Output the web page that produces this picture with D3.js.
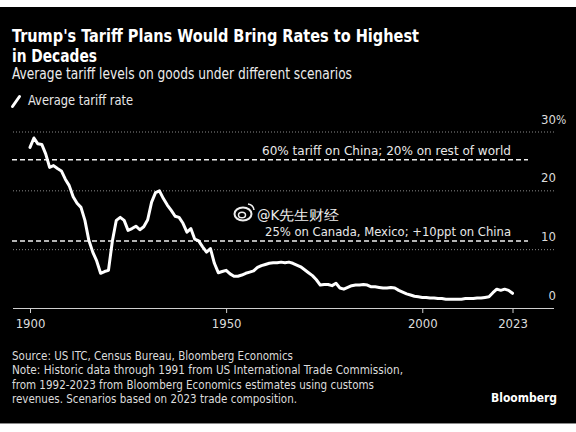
<!DOCTYPE html>
<html><head><meta charset="utf-8">
<script src="https://cdn.jsdelivr.net/npm/d3@7"></script>
<style>
html,body{margin:0;padding:0;background:#fff;}
svg{display:block;}
text{font-family:"DejaVu Sans Condensed","Noto Sans","DejaVu Sans",sans-serif;}
</style></head>
<body>
<svg id="chart" width="576" height="432"></svg>
<script>
// ---------- data ----------
const startYear = 1900;
const tariffRate = [
27.3,28.9,27.9,27.8,26.2,23.9,24.2,23.7,23.3,21.9,
20.8,18.9,17.8,17.1,14.9,11.5,9.5,8.0,5.9,6.2,
6.4,11.4,14.9,15.4,14.9,13.2,13.5,13.9,13.3,13.8,
15.0,18.0,19.6,19.9,18.6,17.5,16.6,15.6,15.4,14.4,
12.9,13.5,11.7,11.4,10.4,9.5,10.1,7.6,6.0,6.2,
6.4,5.8,5.4,5.4,5.6,5.9,6.1,6.3,6.9,7.2,
7.4,7.6,7.7,7.7,7.8,7.7,7.8,7.6,7.3,7.0,
6.5,6.0,5.5,4.8,3.9,4.0,4.0,3.8,4.2,3.4,
3.2,3.5,3.8,3.9,3.9,4.0,3.9,3.6,3.6,3.5,
3.4,3.4,3.5,3.4,3.0,2.7,2.4,2.2,2.0,1.9,
1.8,1.8,1.7,1.7,1.6,1.6,1.5,1.5,1.5,1.5,
1.5,1.6,1.6,1.6,1.7,1.7,1.8,1.9,2.6,3.2,
3.0,3.2,3.0,2.5
];
const years = tariffRate.map((v, i) => startYear + i);
const scenarioLabels = ["60% tariff on China; 20% on rest of world", "25% on Canada, Mexico; +10ppt on China"];
const scenarioValues = [25.2, 11.4];
const yTicks = [0, 10, 20, 30];
const yTickLabels = ["0", "10", "20", "30"];
const xTicks = [1900, 1950, 2000, 2023];
const titleLines = ["Trump's Tariff Plans Would Bring Rates to Highest", "in Decades"];
const subtitle = "Average tariff levels on goods under different scenarios";
const legendLabel = "Average tariff rate";
const footerLines = [
  "Source: US ITC, Census Bureau, Bloomberg Economics",
  "Note: Historic data through 1991 from US International Trade Commission,",
  "from 1992-2023 from Bloomberg Economics estimates using customs",
  "revenues. Scenarios based on 2023 trade composition."
];
const watermark = "@K先生财经";

// ---------- layout ----------
const svg = d3.select("#chart");
const W = 576, H = 432;
const plotLeft = 13, plotRight = 554;

svg.append("rect").attr("x",0).attr("y",0).attr("width",W).attr("height",H).attr("fill","#fff");
svg.append("rect").attr("x",0).attr("y",7).attr("width",W).attr("height",416).attr("fill","#000");
svg.append("line").attr("x1",0).attr("x2",W).attr("y1",423.5).attr("y2",423.5).attr("stroke","#8a8a8a");

const x = d3.scaleLinear().domain([1900, 2023]).range([30, 512.5]);
const y = d3.scaleLinear().domain([0, 30]).range([308, 131.5]);

function fit(sel, w){
  const n = sel.node();
  const len = n.getComputedTextLength();
  if (Math.abs(len - w) > 1) sel.attr("textLength", w).attr("lengthAdjust","spacingAndGlyphs");
  return sel;
}

// title
fit(svg.append("text").attr("x",12).attr("y",42).attr("fill","#fff").attr("font-weight","bold")
  .attr("font-size",17.5).text(titleLines[0]), 407);
fit(svg.append("text").attr("x",12).attr("y",62).attr("fill","#fff").attr("font-weight","bold")
  .attr("font-size",17.5).text(titleLines[1]), 85);
fit(svg.append("text").attr("x",12).attr("y",79).attr("fill","#ececec")
  .attr("font-size",15).text(subtitle), 340);

// legend
svg.append("line").attr("x1",12.5).attr("y1",106.5).attr("x2",19.5).attr("y2",96.5)
  .attr("stroke","#fff").attr("stroke-width",3).attr("stroke-linecap","round");
fit(svg.append("text").attr("x",28).attr("y",105).attr("fill","#e8e8e8")
  .attr("font-size",13.5).text(legendLabel), 105);

// y grid
const gy = svg.append("g").attr("transform",`translate(${plotRight},0)`)
  .call(d3.axisLeft(y).tickValues(yTicks).tickSize(plotRight - plotLeft).tickFormat(""));
gy.select(".domain").remove();
gy.selectAll(".tick line")
  .attr("stroke", d => d === 0 ? "#cfcfcf" : "#8a8a8a")
  .attr("stroke-width", d => d === 0 ? 1.2 : 1)
  .attr("stroke-dasharray", d => d === 0 ? null : "1,2");

// y labels
yTicks.forEach((v, i) => {
  svg.append("text").attr("x",556).attr("y", y(v) - 8).attr("fill","#dcdcdc")
    .attr("font-size",13).attr("text-anchor","end").text(yTickLabels[i]);
  if (v === 30) {
    svg.append("text").attr("x",556).attr("y", y(v) - 8).attr("fill","#dcdcdc")
      .attr("font-size",12).text("%");
  }
});

// x axis ticks
const gx = svg.append("g").attr("transform",`translate(0,${y(0)})`)
  .call(d3.axisBottom(x).tickValues(xTicks).tickSize(5).tickPadding(6).tickFormat(d3.format("d")));
gx.select(".domain").remove();
gx.selectAll(".tick line").attr("stroke","#cfcfcf");
gx.selectAll(".tick text").attr("fill","#dcdcdc").attr("font-size",13)
  .attr("font-family",'"DejaVu Sans Condensed","Noto Sans","DejaVu Sans",sans-serif');

// scenario lines
scenarioValues.forEach((v, i) => {
  svg.append("line").attr("x1",12).attr("x2",528).attr("y1",y(v)).attr("y2",y(v))
    .attr("stroke","#f0f0f0").attr("stroke-width",1.6).attr("stroke-dasharray","5,3");
  fit(svg.append("text").attr("x",511).attr("y",y(v) - 5).attr("fill","#e8e8e8")
    .attr("font-size",13).attr("text-anchor","end").text(scenarioLabels[i]), i === 0 ? 249 : 246);
});

// watermark
const wm = svg.append("g").attr("transform","translate(243,214)");
wm.append("ellipse").attr("rx",8.5).attr("ry",6.5).attr("fill","none").attr("stroke","#eee").attr("stroke-width",2);
wm.append("ellipse").attr("cx",-1).attr("cy",1).attr("rx",3.5).attr("ry",2.8).attr("fill","none").attr("stroke","#eee").attr("stroke-width",1.5);
wm.append("path").attr("d","M5,-10 A7,7 0 0 1 11,-4").attr("fill","none").attr("stroke","#eee").attr("stroke-width",1.5);
fit(svg.append("text").attr("x",257).attr("y",220).attr("fill","#eee").attr("font-size",14)
  .attr("font-family",'"Noto Sans CJK SC","Noto Sans",sans-serif').text(watermark), 82);

// line
const line = d3.line().x((d, i) => x(years[i])).y(d => y(d)).curve(d3.curveLinear);
svg.append("path").datum(tariffRate).attr("d", line).attr("fill","none")
  .attr("stroke","#fff").attr("stroke-width",3).attr("stroke-linejoin","round").attr("stroke-linecap","round");

// footer
const footerWidths = [281, 391, 362, 285];
footerLines.forEach((s, i) => {
  const t = svg.append("text").attr("x",12).attr("y",360 + i * 14.4).attr("fill","#dcdcdc")
    .attr("font-size",12.5).text(s);
  fit(t, footerWidths[i]);
});
fit(svg.append("text").attr("x",491).attr("y",401.5).attr("fill","#fff").attr("font-weight","bold")
  .attr("font-size",13).attr("font-family",'"Liberation Sans","Arial",sans-serif').text("Bloomberg"), 66);
</script>
</body></html>
